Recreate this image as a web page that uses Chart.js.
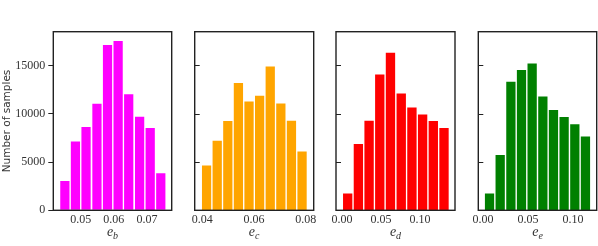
<!DOCTYPE html>
<html>
<head>
<meta charset="utf-8">
<script src="https://cdn.jsdelivr.net/npm/chart.js@4.4.1/dist/chart.umd.min.js"></script>
<style>
  html, body { margin: 0; padding: 0; background: #fff; }
  body { width: 598px; height: 246px; position: relative; overflow: hidden; }
  .panel { position: absolute; top: 0; height: 246px; }
</style>
</head>
<body>
<div class="panel" style="left:0;width:180px"><canvas id="cb"></canvas></div>
<div class="panel" style="left:185px;width:135px"><canvas id="cc"></canvas></div>
<div class="panel" style="left:325px;width:135px"><canvas id="cd"></canvas></div>
<div class="panel" style="left:465px;width:133px"><canvas id="ce"></canvas></div>
<script>
// bin centres and counts per panel
const binsB = [0.0452, 0.0484, 0.0516, 0.0549, 0.0581, 0.0613, 0.0645, 0.0678, 0.0710, 0.0742];
const countsB = [3100, 7200, 8700, 11100, 17200, 17600, 12100, 9750, 8600, 3900];

const binsC = [0.0417, 0.0458, 0.0499, 0.0540, 0.0581, 0.0622, 0.0663, 0.0704, 0.0745, 0.0786];
const countsC = [4700, 7280, 9320, 13250, 11350, 11940, 14970, 11140, 9350, 6170];

const binsD = [0.0073, 0.0210, 0.0347, 0.0484, 0.0621, 0.0759, 0.0896, 0.1033, 0.1170, 0.1307];
const countsD = [1820, 6940, 9350, 14140, 16390, 12170, 10730, 10000, 9320, 8590];

const binsE = [0.0073, 0.0191, 0.0310, 0.0428, 0.0546, 0.0665, 0.0783, 0.0901, 0.1020, 0.1138];
const countsE = [1820, 5800, 13390, 14600, 15280, 11860, 10450, 9730, 8970, 7720];

const xTicksB = [0.05, 0.06, 0.07];
const xTicksC = [0.04, 0.06, 0.08];
const xTicksD = [0.00, 0.05, 0.10];
const xTicksE = [0.00, 0.05, 0.10];
const yTicks = [0, 5000, 10000, 15000];

const serif = '"Liberation Serif", "DejaVu Serif", serif';
const sans = '"DejaVu Sans", "Liberation Sans", sans-serif';
const yMax = 18500;

// frame, inner y ticks and the e_x axis label
const panelDeco = {
  id: 'panelDeco',
  afterDraw(chart, args, opts) {
    const { ctx, chartArea } = chart;
    const y = chart.scales.y;
    ctx.save();
    ctx.strokeStyle = '#222';
    if (opts.innerTicks) {
      ctx.lineWidth = 1;
      yTicks.forEach((v) => {
        if (v === 0) return;
        const py = Math.round(y.getPixelForValue(v)) + 0.5;
        ctx.beginPath();
        ctx.moveTo(chartArea.left, py);
        ctx.lineTo(chartArea.left + 5, py);
        ctx.stroke();
      });
    }
    ctx.lineWidth = 1.4;
    ctx.strokeRect(chartArea.left, chartArea.top,
      chartArea.right - chartArea.left, chartArea.bottom - chartArea.top);

    // axis label: italic e with a subscript letter
    const cx = (chartArea.left + chartArea.right) / 2;
    ctx.fillStyle = '#333';
    ctx.textBaseline = 'alphabetic';
    ctx.font = 'italic 14px ' + serif;
    const w1 = ctx.measureText('e').width;
    ctx.font = 'italic 10px ' + serif;
    const w2 = ctx.measureText(opts.sub).width;
    const x0 = cx - (w1 + w2) / 2;
    ctx.font = 'italic 14px ' + serif;
    ctx.fillText('e', x0, 236);
    ctx.font = 'italic 10px ' + serif;
    ctx.fillText(opts.sub, x0 + w1, 239);
    ctx.restore();
  },
};

function makePanel(id, bins, counts, color, xMin, xMax, xTicks, sub, pad, first) {
  const ctx = document.getElementById(id).getContext('2d');
  return new Chart(ctx, {
    type: 'bar',
    data: {
      datasets: [{
        data: bins.map((b, i) => ({ x: b, y: counts[i] })),
        backgroundColor: color,
        borderColor: '#fff',
        borderWidth: 1,
        borderSkipped: 'bottom',
        categoryPercentage: 1,
        barPercentage: 1,
      }],
    },
    options: {
      responsive: true,
      maintainAspectRatio: false,
      animation: false,
      layout: { padding: { left: pad[0], right: pad[1], top: 31.7, bottom: 0 } },
      plugins: {
        legend: { display: false },
        tooltip: { enabled: false },
        panelDeco: { innerTicks: !first, sub },
      },
      scales: {
        x: {
          type: 'linear',
          offset: false,
          min: xMin,
          max: xMax,
          afterBuildTicks(scale) { scale.ticks = xTicks.map((v) => ({ value: v })); },
          afterFit(scale) { scale.height = 35.7; },
          grid: { display: false, drawTicks: false, tickLength: 0 },
          border: { display: false },
          ticks: {
            autoSkip: false,
            maxRotation: 0,
            padding: 2,
            color: '#333',
            font: { family: serif, size: 12 },
            callback: (v) => Number(v).toFixed(2),
          },
        },
        y: {
          display: first,
          min: 0,
          max: yMax,
          afterBuildTicks(scale) { scale.ticks = yTicks.map((v) => ({ value: v })); },
          afterFit(scale) { scale.width = first ? 53.3 : 0; },
          grid: { drawOnChartArea: false, drawTicks: true, tickLength: 5, color: '#222' },
          border: { display: false },
          ticks: {
            padding: 3,
            color: '#333',
            font: { family: serif, size: 12 },
            callback: (v) => String(v),
          },
          title: {
            display: true,
            text: 'Number of samples',
            color: '#333',
            padding: { top: 1, bottom: 0 },
            font: { family: sans, size: 10.5 },
          },
        },
      },
    },
    plugins: [panelDeco],
  });
}

makePanel('cb', binsB, countsB, '#ff00ff', 0.0417, 0.0775, xTicksB, 'b', [0, 8.3], true);
makePanel('cc', binsC, countsC, '#ffa500', 0.0371, 0.0831, xTicksC, 'c', [9.7, 6.3], false);
makePanel('cd', binsD, countsD, '#ff0000', -0.0077, 0.1448, xTicksD, 'd', [11, 5], false);
makePanel('ce', binsE, countsE, '#008000', -0.0052, 0.1263, xTicksE, 'e', [13.3, 1.3], false);
</script>
</body>
</html>
